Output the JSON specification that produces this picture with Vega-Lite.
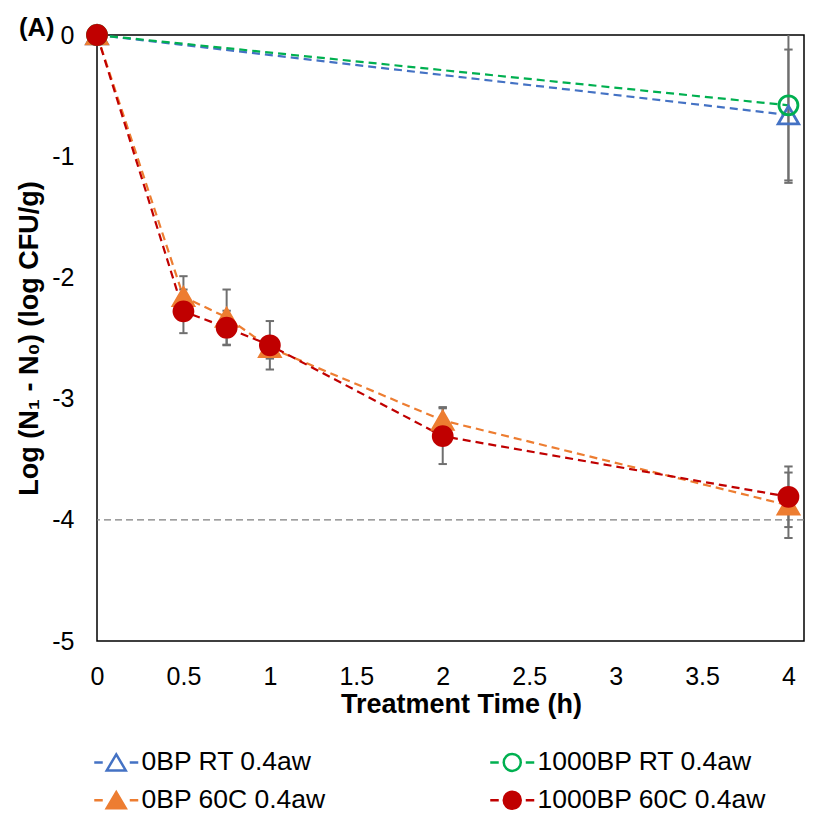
{
  "$schema": "https://vega.github.io/schema/vega-lite/v6.json",
  "width": 707,
  "height": 606,
  "autosize": "none",
  "padding": {"left": 97, "top": 35, "right": 17, "bottom": 183},
  "background": "white",
  "config": {
    "view": {"stroke": "#000000", "strokeWidth": 1.5},
    "font": "Liberation Sans",
    "axis": {"labelFont": "Liberation Sans", "titleFont": "Liberation Sans"}
  },
  "title": {
    "text": "(A)",
    "anchor": "start",
    "frame": "group",
    "orient": "top",
    "offset": 0,
    "dx": -78,
    "dy": 42,
    "baseline": "alphabetic",
    "fontSize": 25.5,
    "fontWeight": "bold",
    "font": "Liberation Sans",
    "color": "#000000"
  },
  "data": {
    "values": [
      {"series": "0BP RT 0.4aw", "t": 0, "v": 0, "lo": null, "hi": null},
      {"series": "0BP RT 0.4aw", "t": 4, "v": -0.66, "lo": -1.2, "hi": -0.12},
      {"series": "1000BP RT 0.4aw", "t": 0, "v": 0, "lo": null, "hi": null},
      {"series": "1000BP RT 0.4aw", "t": 4, "v": -0.58, "lo": -1.22, "hi": 0.06},
      {"series": "0BP 60C 0.4aw", "t": 0, "v": 0, "lo": null, "hi": null},
      {"series": "0BP 60C 0.4aw", "t": 0.5, "v": -2.16, "lo": -2.33, "hi": -1.99},
      {"series": "0BP 60C 0.4aw", "t": 0.75, "v": -2.33, "lo": -2.56, "hi": -2.1},
      {"series": "0BP 60C 0.4aw", "t": 1, "v": -2.58, "lo": -2.67, "hi": -2.49},
      {"series": "0BP 60C 0.4aw", "t": 2, "v": -3.18, "lo": -3.29, "hi": -3.07},
      {"series": "0BP 60C 0.4aw", "t": 4, "v": -3.88, "lo": -4.15, "hi": -3.61},
      {"series": "1000BP 60C 0.4aw", "t": 0, "v": 0, "lo": null, "hi": null},
      {"series": "1000BP 60C 0.4aw", "t": 0.5, "v": -2.28, "lo": -2.46, "hi": -2.1},
      {"series": "1000BP 60C 0.4aw", "t": 0.75, "v": -2.415, "lo": -2.555, "hi": -2.275},
      {"series": "1000BP 60C 0.4aw", "t": 1, "v": -2.56, "lo": -2.76, "hi": -2.36},
      {"series": "1000BP 60C 0.4aw", "t": 2, "v": -3.31, "lo": -3.54, "hi": -3.08},
      {"series": "1000BP 60C 0.4aw", "t": 4, "v": -3.81, "lo": -4.06, "hi": -3.56}
    ]
  },
  "layer": [
    {
      "data": {"values": [{"limit": -4}]},
      "mark": {"type": "rule", "color": "#7f7f7f", "strokeWidth": 1.3, "strokeDash": [7, 4]},
      "encoding": {"y": {"field": "limit", "type": "quantitative"}}
    },
    {
      "transform": [{"filter": "datum.series === '0BP RT 0.4aw'"}],
      "mark": {"type": "line", "strokeDash": [8, 5], "strokeWidth": 2.2, "color": "#4472C4"},
      "encoding": {
        "x": {
          "field": "t",
          "type": "quantitative",
          "scale": {"domain": [0, 4.09], "nice": false, "zero": false},
          "axis": {
            "title": "Treatment Time (h)",
            "values": [0, 0.5, 1, 1.5, 2, 2.5, 3, 3.5, 4],
            "labelExpr": "'' + datum.value",
            "ticks": false,
            "domain": false,
            "grid": false,
            "labelFontSize": 25,
            "labelColor": "#000000",
            "labelPadding": 23,
            "labelFlush": false,
            "labelOverlap": false,
            "titleFontSize": 27,
            "titleFontWeight": "bold",
            "titleColor": "#000000",
            "titlePadding": 2,
            "titleX": 364
          }
        },
        "y": {
          "field": "v",
          "type": "quantitative",
          "scale": {"domain": [-5, 0], "nice": false, "zero": false},
          "axis": {
            "title": "Log (N₁ - N₀) (log CFU/g)",
            "values": [0, -1, -2, -3, -4, -5],
            "labelExpr": "'' + datum.value",
            "ticks": false,
            "domain": false,
            "grid": false,
            "labelFontSize": 25,
            "labelColor": "#000000",
            "labelPadding": 23,
            "titleFontSize": 27,
            "titleFontWeight": "bold",
            "titleColor": "#000000",
            "titlePadding": 8
          }
        }
      }
    },
    {
      "transform": [{"filter": "datum.series === '1000BP RT 0.4aw'"}],
      "mark": {"type": "line", "strokeDash": [8, 5], "strokeWidth": 2.2, "color": "#00B050"},
      "encoding": {
        "x": {"field": "t", "type": "quantitative"},
        "y": {"field": "v", "type": "quantitative"}
      }
    },
    {
      "transform": [{"filter": "datum.series === '0BP 60C 0.4aw'"}],
      "mark": {"type": "line", "strokeDash": [8, 5], "strokeWidth": 2.2, "color": "#ED7D31"},
      "encoding": {
        "x": {"field": "t", "type": "quantitative"},
        "y": {"field": "v", "type": "quantitative"}
      }
    },
    {
      "transform": [{"filter": "datum.series === '1000BP 60C 0.4aw'"}],
      "mark": {"type": "line", "strokeDash": [8, 5], "strokeWidth": 2.2, "color": "#C00000"},
      "encoding": {
        "x": {"field": "t", "type": "quantitative"},
        "y": {"field": "v", "type": "quantitative"}
      }
    },
    {
      "transform": [{"filter": "datum.lo != null"}],
      "mark": {"type": "rule", "color": "#6f6f6f", "strokeWidth": 2, "clip": true},
      "encoding": {
        "x": {"field": "t", "type": "quantitative"},
        "y": {"field": "lo", "type": "quantitative"},
        "y2": {"field": "hi"}
      }
    },
    {
      "transform": [{"filter": "datum.lo != null"}],
      "mark": {"type": "point", "shape": "stroke", "size": 70, "color": "#6f6f6f", "strokeWidth": 2, "opacity": 1, "clip": true},
      "encoding": {
        "x": {"field": "t", "type": "quantitative"},
        "y": {"field": "lo", "type": "quantitative"}
      }
    },
    {
      "transform": [{"filter": "datum.lo != null"}],
      "mark": {"type": "point", "shape": "stroke", "size": 70, "color": "#6f6f6f", "strokeWidth": 2, "opacity": 1, "clip": true},
      "encoding": {
        "x": {"field": "t", "type": "quantitative"},
        "y": {"field": "hi", "type": "quantitative"}
      }
    },
    {
      "transform": [{"filter": "datum.series === '0BP RT 0.4aw' || datum.series === '0BP 60C 0.4aw'"}],
      "mark": {"type": "point", "shape": "triangle-up", "size": 420, "opacity": 1, "strokeWidth": 2.8},
      "encoding": {
        "x": {"field": "t", "type": "quantitative"},
        "y": {"field": "v", "type": "quantitative"},
        "stroke": {
          "field": "series",
          "type": "nominal",
          "scale": {
            "domain": ["0BP RT 0.4aw", "1000BP RT 0.4aw", "0BP 60C 0.4aw", "1000BP 60C 0.4aw"],
            "range": ["#4472C4", "#00B050", "#ED7D31", "#C00000"]
          }
        },
        "fill": {
          "field": "series",
          "type": "nominal",
          "scale": {
            "domain": ["0BP RT 0.4aw", "1000BP RT 0.4aw", "0BP 60C 0.4aw", "1000BP 60C 0.4aw"],
            "range": ["transparent", "transparent", "#ED7D31", "#C00000"]
          }
        }
      }
    },
    {
      "transform": [{"filter": "datum.series === '1000BP RT 0.4aw' || datum.series === '1000BP 60C 0.4aw'"}],
      "mark": {"type": "point", "shape": "circle", "size": 360, "opacity": 1, "strokeWidth": 2.8},
      "encoding": {
        "x": {"field": "t", "type": "quantitative"},
        "y": {"field": "v", "type": "quantitative"},
        "stroke": {"field": "series", "type": "nominal"},
        "fill": {"field": "series", "type": "nominal"}
      }
    },
    {
      "transform": [{"filter": "datum.t === 0"}],
      "mark": {"type": "point", "opacity": 0, "strokeWidth": 2.5},
      "encoding": {
        "x": {"field": "t", "type": "quantitative"},
        "y": {"field": "v", "type": "quantitative"},
        "stroke": {"field": "series", "type": "nominal"},
        "fill": {"field": "series", "type": "nominal"},
        "shape": {
          "field": "series",
          "type": "nominal",
          "scale": {
            "domain": ["0BP RT 0.4aw", "1000BP RT 0.4aw", "0BP 60C 0.4aw", "1000BP 60C 0.4aw"],
            "range": [
              "M-2.2,0H-1.35M1.35,0H2.2M0,-0.8L0.95,0.8L-0.95,0.8Z",
              "M-2.2,0H-1.35M1.35,0H2.2M0.85,0A0.85,0.85,0,1,1,-0.85,0A0.85,0.85,0,1,1,0.85,0Z",
              "M-2.2,0H-1.35M1.35,0H2.2M0,-0.8L0.95,0.8L-0.95,0.8Z",
              "M-2.2,0H-1.35M1.35,0H2.2M0.85,0A0.85,0.85,0,1,1,-0.85,0A0.85,0.85,0,1,1,0.85,0Z"
            ]
          },
          "legend": {
            "title": null,
            "orient": "none",
            "legendX": 6,
            "legendY": 714,
            "direction": "horizontal",
            "columns": 2,
            "columnPadding": 159,
            "rowPadding": 10,
            "padding": 0,
            "symbolSize": 400,
            "symbolOpacity": 1,
            "symbolStrokeWidth": 2.5,
            "labelOffset": 12,
            "labelFontSize": 26.5,
            "labelFont": "Liberation Sans",
            "labelColor": "#000000",
            "labelLimit": 400
          }
        }
      }
    }
  ]
}
